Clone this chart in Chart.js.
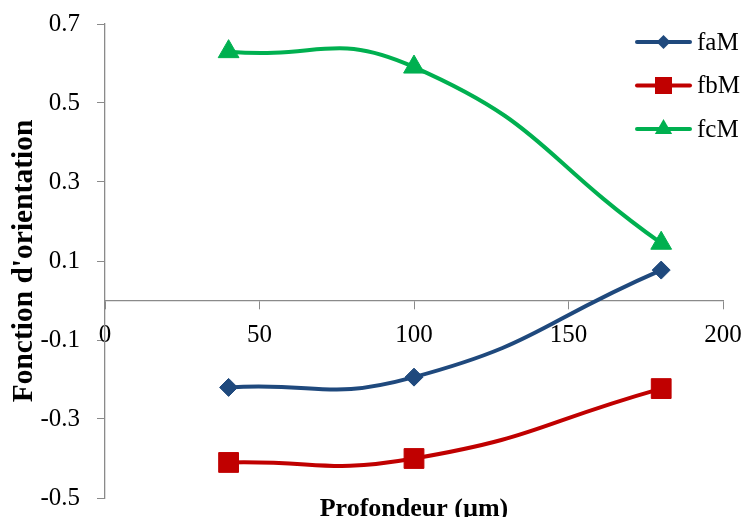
<!DOCTYPE html>
<html lang="fr">
<head>
<meta charset="UTF-8">
<title>Fonction d'orientation</title>
<script src="https://cdn.jsdelivr.net/npm/chart.js"></script>
<style>
  html, body { margin: 0; padding: 0; background: #fff; }
  #wrap { position: relative; width: 745px; height: 517px; }
</style>
</head>
<body>
<div id="wrap"><canvas id="chart" width="745" height="517"></canvas></div>
<script>
// data
const depth = [40, 100, 180];
const faM = [-0.22, -0.194, 0.077];
const fbM = [-0.41, -0.40, -0.223];
const fcM = [0.63, 0.591, 0.145];
const seriesNames = ['faM', 'fbM', 'fcM'];
const xTicks = [0, 50, 100, 150, 200];
const yTicks = [-0.5, -0.3, -0.1, 0.1, 0.3, 0.5, 0.7];
const xTitle = 'Profondeur (µm)';
const yTitle = "Fonction d'orientation";

const colors = ['#1F497D', '#C00000', '#00B050'];
const markers = ['rectRot', 'rect', 'triangle'];
const markerSize = [9, 14, 12];
const axisColor = '#8a8a8a';
const serif = '"Liberation Serif", "Times New Roman", serif';

function toPoints(ys) {
    return depth.map((x, i) => ({ x: x, y: ys[i] }));
}

const datasets = [faM, fbM, fcM].map((ys, i) => ({
    label: seriesNames[i],
    data: toPoints(ys),
    showLine: true,
    borderColor: colors[i],
    backgroundColor: colors[i],
    borderWidth: 4,
    tension: 0.5,
    pointStyle: markers[i],
    pointRadius: markerSize[i],
    pointHoverRadius: markerSize[i],
    pointBorderWidth: 1,
    pointBorderColor: colors[i],
    pointBackgroundColor: colors[i]
}));

// legend on the right + x-axis title at the bottom
const extras = {
    id: 'extras',
    afterDraw(chart) {
        const ctx = chart.ctx;
        ctx.save();
        chart.data.datasets.forEach((ds, i) => {
            const y = 42 + i * 43.5;
            ctx.strokeStyle = ds.borderColor;
            ctx.lineWidth = 4;
            ctx.lineCap = 'round';
            ctx.beginPath();
            ctx.moveTo(637, y);
            ctx.lineTo(690, y);
            ctx.stroke();

            const cx = 663.5;
            ctx.fillStyle = ds.backgroundColor;
            ctx.beginPath();
            if (ds.pointStyle === 'rectRot') {
                const r = 7;
                ctx.moveTo(cx - r, y); ctx.lineTo(cx, y - r);
                ctx.lineTo(cx + r, y); ctx.lineTo(cx, y + r);
            } else if (ds.pointStyle === 'rect') {
                const h = 8.5;
                ctx.rect(cx - h, y - h, 2 * h, 2 * h);
            } else {
                const r = 10;
                ctx.moveTo(cx, y - r);
                ctx.lineTo(cx + r * 0.866, y + r / 2);
                ctx.lineTo(cx - r * 0.866, y + r / 2);
            }
            ctx.closePath();
            ctx.fill();

            ctx.fillStyle = '#000';
            ctx.font = '25px ' + serif;
            ctx.textAlign = 'left';
            ctx.textBaseline = 'middle';
            ctx.fillText(ds.label, 697, y + 1);
        });

        ctx.fillStyle = '#000';
        ctx.font = 'bold 26px ' + serif;
        ctx.textAlign = 'center';
        ctx.textBaseline = 'alphabetic';
        ctx.fillText(xTitle, 414, 516);
        ctx.restore();
    }
};

new Chart(document.getElementById('chart'), {
    type: 'scatter',
    data: { datasets: datasets },
    options: {
        responsive: false,
        animation: false,
        layout: { padding: { left: 0, right: 22, top: 24, bottom: 19 } },
        plugins: {
            legend: { display: false },
            tooltip: { enabled: false }
        },
        scales: {
            x: {
                type: 'linear',
                position: { y: 0 },
                min: 0,
                max: 200,
                afterBuildTicks: s => { s.ticks = xTicks.map(v => ({ value: v })); },
                afterFit: s => { s.paddingLeft = 0; s.paddingRight = 0; },
                grid: { drawOnChartArea: false, drawTicks: true, tickLength: 8, color: axisColor },
                border: { color: axisColor, width: 1.3 },
                ticks: {
                    padding: 12,
                    color: '#000',
                    font: { family: serif, size: 25 },
                    maxRotation: 0,
                    autoSkip: false
                }
            },
            y: {
                min: -0.5,
                max: 0.7,
                afterBuildTicks: s => { s.ticks = yTicks.map(v => ({ value: v })); },
                afterFit: s => { s.width = 105; s.paddingTop = 0; s.paddingBottom = 0; },
                grid: { drawOnChartArea: false, drawTicks: true, tickLength: 8, color: axisColor },
                border: { color: axisColor, width: 1.3 },
                ticks: {
                    padding: 17,
                    color: '#000',
                    font: { family: serif, size: 25 },
                    callback: v => v.toFixed(1)
                },
                title: {
                    display: true,
                    text: yTitle,
                    color: '#000',
                    font: { family: serif, size: 29.5, weight: 'bold' },
                    padding: { top: 7 }
                }
            }
        }
    },
    plugins: [extras]
});
</script>
</body>
</html>
